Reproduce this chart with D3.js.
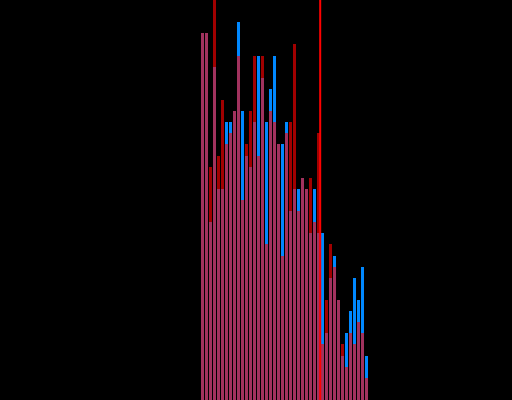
<!DOCTYPE html>
<html>
<head>
<meta charset="utf-8">
<script src="https://cdn.jsdelivr.net/npm/d3@7"></script>
<style>
  html, body { margin: 0; padding: 0; background: #000; }
  svg { display: block; }
</style>
</head>
<body>
<script>
// Bin indices (histogram bins)
const bins = d3.range(42);
// Blue series counts per bin
const blueCounts = [33,33,16,30,19,19,25,25,26,34,26,22,21,25,31,29,25,28,31,23,23,25,17,19,19,20,19,15,19,15,15,6,11,13,9,4,6,8,11,9,12,4];
// Red series counts per bin
const redCounts  = [33,33,21,36,22,27,23,24,26,31,18,23,26,31,22,31,14,26,25,23,13,24,25,32,17,20,19,20,16,24,5,9,14,12,9,5,3,6,5,7,6,2];
// Reference line position (in bin units)
const markerValue = [29.8];
const yMax = 36;

const W = 512, H = 400;
const svg = d3.select("body").append("svg").attr("width", W).attr("height", H);
svg.append("rect").attr("width", W).attr("height", H).attr("fill", "#000");

const x = d3.scaleLinear().domain([0, bins.length]).range([201, 201 + 4 * bins.length]);
const y = d3.scaleLinear().domain([0, yMax]).range([H, 0]);
const bw = x(1) - x(0) - 1;

svg.append("g").selectAll("rect")
  .data(bins)
  .join("rect")
  .attr("x", d => x(d))
  .attr("width", bw)
  .attr("y", d => y(blueCounts[d]))
  .attr("height", d => y(0) - y(blueCounts[d]))
  .attr("fill", "rgb(0,136,255)")
  .attr("shape-rendering", "crispEdges");

svg.append("g").selectAll("rect")
  .data(bins)
  .join("rect")
  .attr("x", d => x(d))
  .attr("width", bw)
  .attr("y", d => y(redCounts[d]))
  .attr("height", d => y(0) - y(redCounts[d]))
  .attr("fill", "rgb(255,0,0)")
  .attr("fill-opacity", 0.63)
  .attr("shape-rendering", "crispEdges");

svg.append("g").selectAll("line")
  .data(markerValue)
  .join("line")
  .attr("x1", d => x(d)).attr("x2", d => x(d))
  .attr("y1", 0).attr("y2", H)
  .attr("stroke", "#ff0000")
  .attr("stroke-width", 2);
</script>
</body>
</html>
